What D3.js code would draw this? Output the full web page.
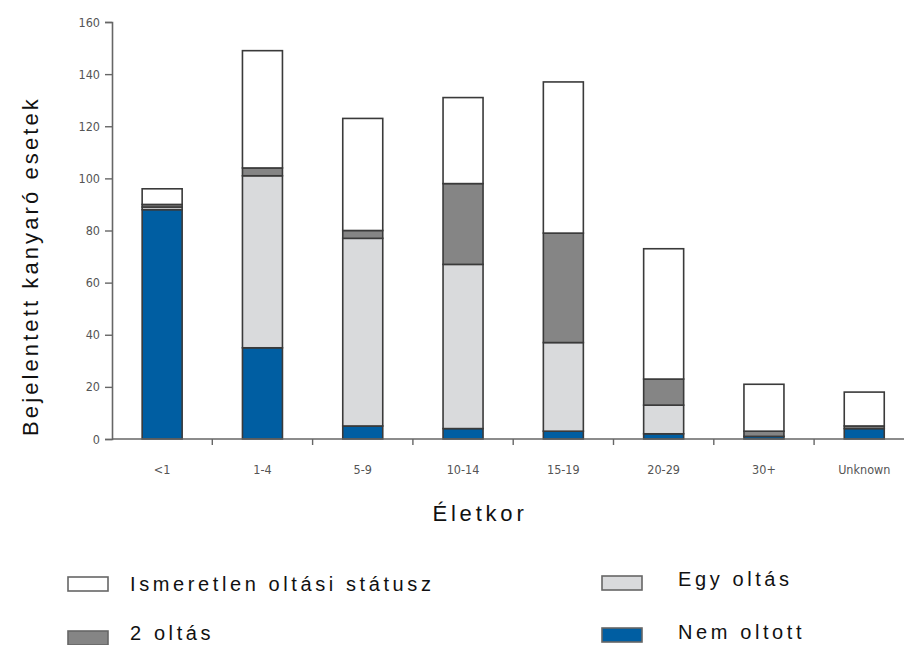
<!DOCTYPE html>
<html><head><meta charset="utf-8">
<script src="https://cdn.jsdelivr.net/npm/d3@7/dist/d3.min.js"></script>
<style>
body{margin:0;background:#fff;}
svg{display:block;}
</style></head>
<body>
<svg id="chart" width="904" height="645"></svg>
<script>
const categories = ["<1","1-4","5-9","10-14","15-19","20-29","30+","Unknown"];
const nemOltott  = [88, 35, 5, 4, 3, 2, 1, 4];
const egyOltas   = [1, 66, 72, 63, 34, 11, 0, 0];
const ketOltas   = [1, 3, 3, 31, 42, 10, 2, 1];
const ismeretlen = [6, 45, 43, 33, 58, 50, 18, 13];
const yTicks = [0,20,40,60,80,100,120,140,160];
const seriesNames = ["Nem oltott","Egy oltás","2 oltás","Ismeretlen oltási státusz"];
const seriesColors = ["#005ea2","#d9dadc","#858585","#ffffff"];

const svg = d3.select("#chart");
const x = d3.scaleBand().domain(categories).range([112, 914.4]).padding(0);
const y = d3.scaleLinear().domain([0,160]).range([439, 22]);
const barW = 40;

const rows = categories.map((c,i)=>({cat:c, s0:nemOltott[i], s1:egyOltas[i], s2:ketOltas[i], s3:ismeretlen[i]}));
const stack = d3.stack().keys(["s0","s1","s2","s3"])(rows);

// bars
stack.forEach((layer,li)=>{
  svg.append("g").selectAll("rect").data(layer).join("rect")
    .attr("x", d=>x(d.data.cat)+x.bandwidth()/2-barW/2)
    .attr("y", d=>y(d[1]))
    .attr("width", barW)
    .attr("height", d=>Math.max(0,y(d[0])-y(d[1])))
    .attr("fill", seriesColors[li])
    .attr("stroke", "#3a3a3a")
    .attr("stroke-width", 1.6);
});

// y axis
const yAxis = svg.append("g").attr("transform","translate(112,0)")
  .call(d3.axisLeft(y).tickValues(yTicks).tickSize(7).tickPadding(5));
yAxis.select(".domain").attr("stroke","#666").attr("stroke-width",1.6);
yAxis.selectAll(".tick line").attr("stroke","#666").attr("stroke-width",1.4);
yAxis.selectAll(".tick text").attr("font-family","'DejaVu Sans Condensed','DejaVu Sans'").attr("font-size",12.5).attr("fill","#555");

// x axis line
svg.append("line").attr("x1",112).attr("x2",904).attr("y1",y(0)).attr("y2",y(0))
  .attr("stroke","#666").attr("stroke-width",1.6);
// boundary ticks
svg.append("g").selectAll("line").data(categories.slice(1)).join("line")
  .attr("x1",d=>x(d)).attr("x2",d=>x(d)).attr("y1",y(0)).attr("y2",y(0)+6)
  .attr("stroke","#666").attr("stroke-width",1.4);
// x labels
svg.append("g").selectAll("text").data(categories).join("text")
  .attr("x",d=>x(d)+x.bandwidth()/2).attr("y",y(0)+35)
  .attr("text-anchor","middle")
  .attr("font-family","'DejaVu Sans Condensed','DejaVu Sans'").attr("font-size",12.5).attr("fill","#555")
  .text(d=>d);

// axis titles
svg.append("text").attr("transform","translate(38,266) rotate(-90)")
  .attr("text-anchor","middle").attr("font-family","'Liberation Sans',Arial,sans-serif")
  .attr("font-size",22).attr("letter-spacing",3.1).attr("fill","#111")
  .text("Bejelentett kanyaró esetek");
svg.append("text").attr("x",480).attr("y",521)
  .attr("text-anchor","middle").attr("font-family","'Liberation Sans',Arial,sans-serif")
  .attr("font-size",22).attr("letter-spacing",3.8).attr("fill","#111")
  .text("Életkor");

// legend
const legendItems = [
  {name:seriesNames[3], color:seriesColors[3], x:68, y:577, tx:130, ty:591},
  {name:seriesNames[1], color:seriesColors[1], x:602, y:576, tx:678, ty:586},
  {name:seriesNames[2], color:seriesColors[2], x:68, y:631, tx:130, ty:640},
  {name:seriesNames[0], color:seriesColors[0], x:602, y:628, tx:678, ty:639}
];
const lg = svg.append("g");
lg.selectAll("rect").data(legendItems).join("rect")
  .attr("x",d=>d.x).attr("y",d=>d.y).attr("width",40).attr("height",14)
  .attr("fill",d=>d.color).attr("stroke","#666").attr("stroke-width",1.6);
lg.selectAll("text").data(legendItems).join("text")
  .attr("x",d=>d.tx).attr("y",d=>d.ty)
  .attr("font-family","'Liberation Sans',Arial,sans-serif").attr("font-size",20)
  .attr("letter-spacing",3.6).attr("fill","#111")
  .text(d=>d.name);
</script>
</body></html>
